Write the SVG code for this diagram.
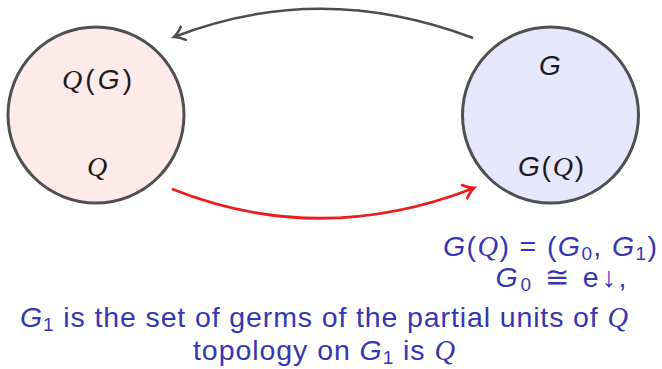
<svg xmlns="http://www.w3.org/2000/svg" width="662" height="369" viewBox="0 0 662 369">
<style>
.node{stroke:#505050;stroke-width:3}
.lbl{font-family:"Liberation Sans",Arial,sans-serif;font-size:28px;fill:#1a1a1a}
.it{font-style:italic}
.cal{font-family:"Liberation Serif","Times New Roman",serif;font-style:italic}
.sub{font-size:19px}
.txt{font-family:"Liberation Sans",Arial,sans-serif;font-size:28.5px;fill:#3636b5}
</style>
<defs>
<marker id="ahG" markerUnits="userSpaceOnUse" markerWidth="20" markerHeight="20" refX="0" refY="0" viewBox="-12 -10 14 20" orient="auto">
<path d="M-10,-7 Q-4,-1.5 0,0 Q-4,1.5 -10,7" fill="none" stroke="#4d4d4d" stroke-width="2.5" stroke-linecap="round"/>
</marker>
<marker id="ahR" markerUnits="userSpaceOnUse" markerWidth="20" markerHeight="20" refX="0" refY="0" viewBox="-12 -10 14 20" orient="auto">
<path d="M-10,-7 Q-4,-1.5 0,0 Q-4,1.5 -10,7" fill="none" stroke="#ee1d1d" stroke-width="2.8" stroke-linecap="round"/>
</marker>
</defs>
<g id="connectors">
<path d="M473,38 Q320,-20 174,37" fill="none" stroke="#4d4d4d" stroke-width="2.5" marker-end="url(#ahG)"/>
<path d="M172,189 Q320,248 474,188" fill="none" stroke="#ee1d1d" stroke-width="2.8" marker-end="url(#ahR)"/>
</g>
<g id="nodeQ">
<circle class="node" cx="96" cy="115" r="88" fill="#ffeaea"/>
<text class="lbl" x="97" y="89" text-anchor="middle" textLength="70" lengthAdjust="spacing"><tspan class="cal">Q</tspan>(<tspan class="it">G</tspan>)</text>
<text class="lbl" x="97" y="176" text-anchor="middle"><tspan class="cal">Q</tspan></text>
</g>
<g id="nodeG">
<circle class="node" cx="550.5" cy="115" r="88" fill="#e6e6ff"/>
<text class="lbl" x="550" y="75" text-anchor="middle"><tspan class="it">G</tspan></text>
<text class="lbl" x="551" y="176" text-anchor="middle" textLength="66" lengthAdjust="spacing"><tspan class="it">G</tspan>(<tspan class="cal">Q</tspan>)</text>
</g>
<g id="caption">
<text class="txt" x="657" y="256" text-anchor="end" textLength="214" lengthAdjust="spacing"><tspan class="it">G</tspan>(<tspan class="cal">Q</tspan>) = (<tspan class="it">G</tspan><tspan class="sub" dy="4">0</tspan><tspan dy="-4">, </tspan><tspan class="it">G</tspan><tspan class="sub" dy="4">1</tspan><tspan dy="-4">)</tspan></text>
<text class="txt" x="561" y="287" text-anchor="middle" textLength="131" lengthAdjust="spacing"><tspan class="it">G</tspan><tspan class="sub" dy="4">0</tspan><tspan dy="-4"> ≅ e↓,</tspan></text>
<text class="txt" x="324" y="327" text-anchor="middle" textLength="608" lengthAdjust="spacing"><tspan class="it">G</tspan><tspan class="sub" dy="4">1</tspan><tspan dy="-4"> is the set of germs of the partial units of </tspan><tspan class="cal">Q</tspan></text>
<text class="txt" x="324" y="360" text-anchor="middle" textLength="262" lengthAdjust="spacing">topology on <tspan class="it">G</tspan><tspan class="sub" dy="4">1</tspan><tspan dy="-4"> is </tspan><tspan class="cal">Q</tspan></text>
</g>
</svg>
